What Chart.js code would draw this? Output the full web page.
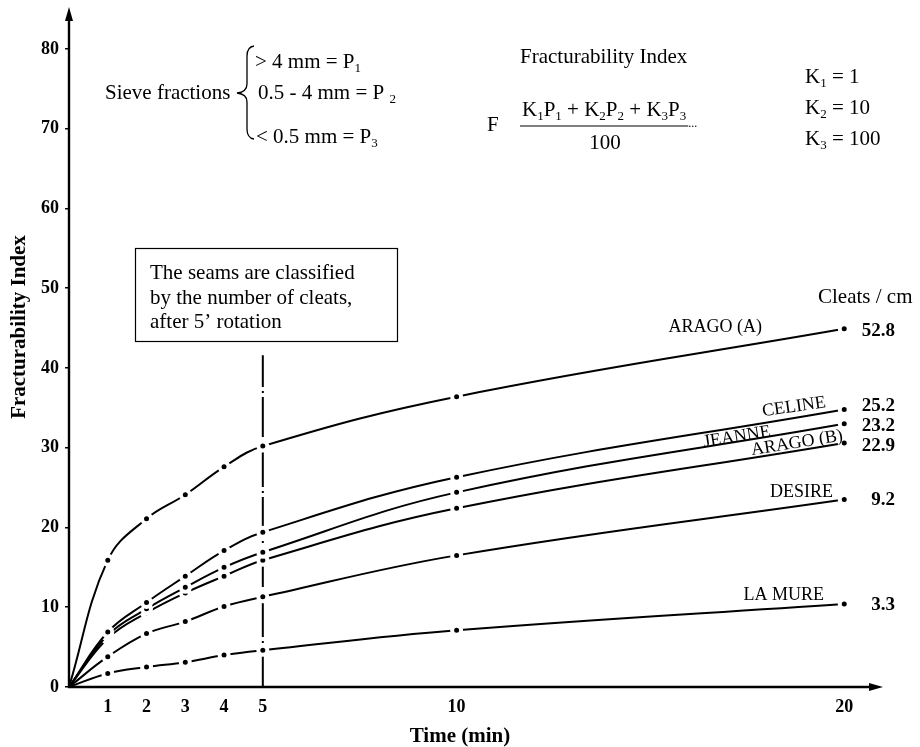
<!DOCTYPE html>
<html>
<head>
<meta charset="utf-8">
<title>Fracturability Index</title>
<script src="https://cdn.jsdelivr.net/npm/chart.js@4"></script>
<style>
  html, body { margin: 0; padding: 0; background: #fff; }
  #wrap { width: 920px; height: 747px; }
</style>
</head>
<body>
<div id="wrap"><canvas id="fracChart" width="920" height="747"></canvas></div>
<script>
// rotation time (min) and fracturability index of each seam
const times = [0, 1, 2, 3, 4, 5, 10, 20];
const seamNames = ['ARAGO (A)', 'CELINE', 'JEANNE', 'ARAGO (B)', 'DESIRE', 'LA MURE'];
const aragoA = [0, 15.9, 21.1, 24.1, 27.6, 30.2, 36.4, 44.9];
const celine = [0, 6.9, 10.6, 13.9, 17.1, 19.4, 26.3, 34.8];
const jeanne = [0, 6.5, 9.8, 12.5, 15.0, 16.9, 24.4, 33.0];
const aragoB = [0, 6.1, 9.3, 11.8, 13.9, 15.9, 22.4, 30.6];
const desire = [0, 3.8, 6.7, 8.2, 10.1, 11.3, 16.5, 23.5];
const laMure = [0, 1.7, 2.5, 3.1, 4.0, 4.6, 7.1, 10.4];
const cleatsPerCm = [52.8, 25.2, 23.2, 22.9, 9.2, 3.3];

const xTicks = [1, 2, 3, 4, 5, 10, 20];
const yTicks = [0, 10, 20, 30, 40, 50, 60, 70, 80];

// marker line at the classification time
const classifyTime = 5;
const classifyTop = 41.6;

const seamValues = [aragoA, celine, jeanne, aragoB, desire, laMure];

// where the seam names sit next to their curves
const namePlaces = [
    { x: 762, y: 327, align: 'right', rot: 0 },
    { x: 794, y: 407, align: 'center', rot: -8 },
    { x: 737, y: 437, align: 'center', rot: -9 },
    { x: 797, y: 443, align: 'center', rot: -9 },
    { x: 833, y: 492, align: 'right', rot: 0 },
    { x: 824, y: 595, align: 'right', rot: 0 }
];
// baselines of the cleats column
const cleatsRows = [331, 406, 426, 446, 500, 605];

const serif = "'Liberation Serif', 'DejaVu Serif', serif";

// text with "_" prefixed parts drawn as subscripts
function richText(ctx, x, y, parts, size) {
    let cx = x;
    parts.forEach(p => {
        const sub = p.startsWith('_');
        const t = sub ? p.slice(1) : p;
        ctx.font = (sub ? Math.round(size * 0.62) : size) + 'px ' + serif;
        ctx.fillText(t, cx, y + (sub ? size * 0.32 : 0));
        cx += ctx.measureText(t).width;
    });
    return cx;
}

const decorations = {
    id: 'decorations',
    afterDraw(chart) {
        const ctx = chart.ctx;
        const area = chart.chartArea;
        ctx.save();
        ctx.fillStyle = '#000';
        ctx.strokeStyle = '#000';

        // axes with arrow heads
        const x0 = area.left, y0 = area.bottom;
        ctx.lineWidth = 2.4;
        ctx.beginPath();
        ctx.moveTo(x0, y0 + 1);
        ctx.lineTo(x0, area.top + 6);
        ctx.moveTo(x0 - 1, y0);
        ctx.lineTo(area.right - 8, y0);
        ctx.stroke();
        ctx.beginPath();
        ctx.moveTo(x0, area.top - 2);
        ctx.lineTo(x0 - 4, area.top + 12);
        ctx.lineTo(x0 + 4, area.top + 12);
        ctx.closePath();
        ctx.fill();
        ctx.beginPath();
        ctx.moveTo(area.right, y0);
        ctx.lineTo(area.right - 14, y0 - 4);
        ctx.lineTo(area.right - 14, y0 + 4);
        ctx.closePath();
        ctx.fill();

        // axis titles
        ctx.font = 'bold 21px ' + serif;
        ctx.textAlign = 'center';
        ctx.textBaseline = 'middle';
        ctx.fillText('Time (min)', 460, 737);
        ctx.save();
        ctx.translate(20, 327);
        ctx.rotate(-Math.PI / 2);
        ctx.fillText('Fracturability Index', 0, 0);
        ctx.restore();

        // sieve fractions with brace
        ctx.textAlign = 'left';
        ctx.font = '21px ' + serif;
        ctx.fillText('Sieve fractions', 105, 93);
        ctx.lineWidth = 1.3;
        ctx.beginPath();
        ctx.moveTo(254, 46);
        ctx.quadraticCurveTo(247, 47, 247, 56);
        ctx.lineTo(247, 84);
        ctx.quadraticCurveTo(247, 92, 237, 93);
        ctx.quadraticCurveTo(247, 94, 247, 102);
        ctx.lineTo(247, 129);
        ctx.quadraticCurveTo(247, 138, 254, 139);
        ctx.stroke();
        richText(ctx, 255, 62, ['> 4 mm = P', '_1'], 21);
        richText(ctx, 258, 93, ['0.5 - 4 mm = P ', '_2'], 21);
        richText(ctx, 256, 137, ['< 0.5 mm = P', '_3'], 21);

        // index definition
        ctx.font = '21px ' + serif;
        ctx.fillText('Fracturability Index', 520, 57);
        ctx.fillText('F', 487, 125);
        const numEnd = richText(ctx, 522, 110,
            ['K', '_1', 'P', '_1', ' + K', '_2', 'P', '_2', ' + K', '_3', 'P', '_3'], 21);
        ctx.lineWidth = 1.2;
        ctx.beginPath();
        ctx.moveTo(520, 126);
        ctx.lineTo(numEnd + 2, 126);
        ctx.stroke();
        ctx.font = '12px ' + serif;
        ctx.fillText('...', numEnd + 2, 124);
        ctx.font = '21px ' + serif;
        ctx.textAlign = 'center';
        ctx.fillText('100', 605, 143);
        ctx.textAlign = 'left';
        richText(ctx, 805, 77, ['K', '_1', ' = 1'], 21);
        richText(ctx, 805, 108, ['K', '_2', ' = 10'], 21);
        richText(ctx, 805, 139, ['K', '_3', ' = 100'], 21);

        // classification note
        ctx.lineWidth = 1.2;
        ctx.strokeRect(135.5, 248.5, 262, 93);
        ctx.font = '21px ' + serif;
        ctx.fillText('The seams are classified', 150, 273);
        ctx.fillText('by the number of cleats,', 150, 298);
        ctx.fillText('after 5\u2019 rotation', 150, 322);

        // seam names along the curves
        ctx.font = '18px ' + serif;
        seamNames.forEach((name, i) => {
            const p = namePlaces[i];
            ctx.save();
            ctx.translate(p.x, p.y);
            ctx.rotate(p.rot * Math.PI / 180);
            ctx.textAlign = p.align;
            ctx.fillText(name, 0, 0);
            ctx.restore();
        });

        // cleats per cm column
        ctx.font = '21px ' + serif;
        ctx.textAlign = 'left';
        ctx.fillText('Cleats / cm', 818, 297);
        ctx.font = 'bold 19px ' + serif;
        ctx.textAlign = 'right';
        cleatsPerCm.forEach((c, i) => {
            ctx.fillText(c.toFixed(1), 895, cleatsRows[i]);
        });
        ctx.restore();
    }
};

const seamSets = seamNames.map((name, i) => ({
    label: name,
    data: times.map((t, k) => ({ x: t, y: seamValues[i][k] })),
    borderColor: '#000',
    borderWidth: 2,
    tension: 0.4,
    pointRadius: times.map(t => (t === 0 ? 0 : 4.5)),
    pointBackgroundColor: '#000',
    pointBorderColor: '#fff',
    pointBorderWidth: 4,
    fill: false
}));

seamSets.push({
    label: 'classification',
    data: [{ x: classifyTime, y: 0 }, { x: classifyTime, y: classifyTop }],
    borderColor: '#000',
    borderWidth: 2,
    borderDash: [40, 4, 2, 4],
    pointRadius: 0,
    fill: false
});

new Chart(document.getElementById('fracChart'), {
    type: 'line',
    data: { datasets: seamSets },
    options: {
        responsive: false,
        animation: false,
        layout: { padding: { top: 9, right: 37, left: 0, bottom: 0 } },
        plugins: {
            legend: { display: false },
            tooltip: { enabled: false }
        },
        scales: {
            x: {
                type: 'linear',
                min: 0,
                max: 21,
                afterBuildTicks: s => { s.ticks = xTicks.map(v => ({ value: v })); },
                afterFit: s => { s.height = 60; s.paddingLeft = 0; s.paddingRight = 0; },
                grid: { display: false },
                border: { display: false },
                ticks: {
                    color: '#000',
                    padding: 2,
                    maxRotation: 0,
                    autoSkip: false,
                    font: { family: serif, size: 18, weight: 'bold' }
                }
            },
            y: {
                min: 0,
                max: 85,
                afterBuildTicks: s => { s.ticks = yTicks.map(v => ({ value: v })); },
                afterFit: s => { s.width = 69; s.paddingTop = 0; s.paddingBottom = 0; },
                grid: { display: true, drawOnChartArea: false, tickLength: 4, color: '#000', lineWidth: 1.5 },
                border: { display: false },
                ticks: {
                    color: '#000',
                    padding: 6,
                    font: { family: serif, size: 18, weight: 'bold' }
                }
            }
        }
    },
    plugins: [decorations]
});
</script>
</body>
</html>
